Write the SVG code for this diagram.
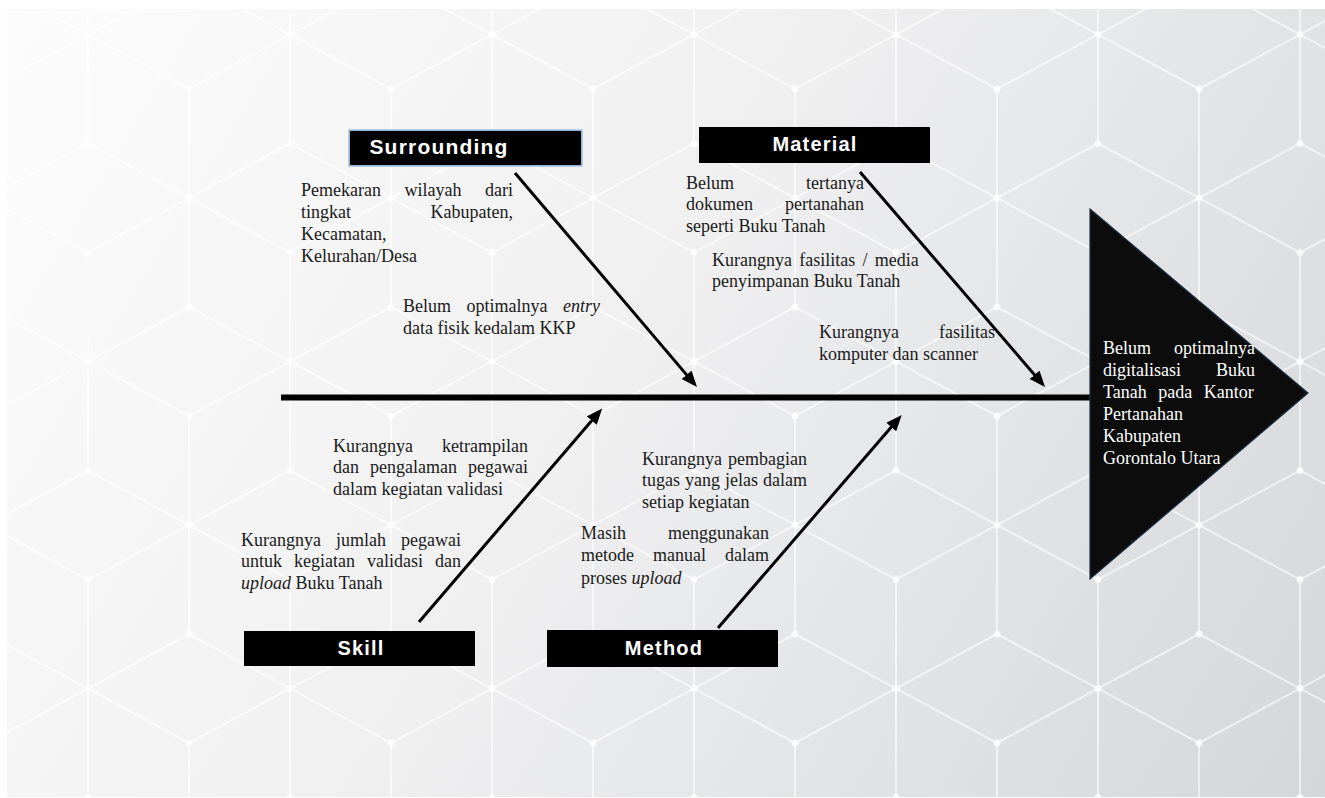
<svg xmlns="http://www.w3.org/2000/svg" width="1325" height="798" viewBox="0 0 1325 798">
<defs>
<linearGradient id="bg" x1="7" y1="9" x2="1325" y2="797" gradientUnits="userSpaceOnUse">
<stop offset="0" stop-color="#fcfcfc"/>
<stop offset="0.45" stop-color="#f0f0f1"/>
<stop offset="1" stop-color="#d4d6d9"/>
</linearGradient>
<pattern id="hex" patternUnits="userSpaceOnUse" x="88" y="34.5" width="202" height="327">
<g stroke="#ffffff" stroke-width="1.5" fill="none" stroke-opacity="0.8">
<path d="M0,-109V109M-101,-54.5L101,54.5M-101,54.5L101,-54.5"/>
<path d="M202,-109V109M101,-54.5L303,54.5M101,54.5L303,-54.5"/>
<path d="M0,218V436M-101,272.5L101,381.5M-101,381.5L101,272.5"/>
<path d="M202,218V436M101,272.5L303,381.5M101,381.5L303,272.5"/>
<path d="M101,54.5V272.5M0,109L202,218M0,218L202,109"/>
</g>
<g fill="#ffffff" fill-opacity="0.75">
<circle cx="0" cy="0" r="3.5"/><circle cx="0" cy="109" r="3.5"/><circle cx="0" cy="218" r="3.5"/><circle cx="0" cy="327" r="3.5"/>
<circle cx="202" cy="0" r="3.5"/><circle cx="202" cy="109" r="3.5"/><circle cx="202" cy="218" r="3.5"/><circle cx="202" cy="327" r="3.5"/>
<circle cx="101" cy="54.5" r="3.5"/><circle cx="101" cy="163.5" r="3.5"/><circle cx="101" cy="272.5" r="3.5"/>
</g>
</pattern>
<marker id="ah" markerUnits="userSpaceOnUse" markerWidth="17" markerHeight="14" refX="8" refY="7" orient="auto">
<path d="M0,0.5 L16,7 L0,13.5 Z" fill="#000"/>
</marker>
</defs>
<style>
.cause{font-family:"Liberation Serif","Times New Roman",serif;font-size:18px;fill:#1a1a1a}
.eff{font-family:"Liberation Serif","Times New Roman",serif;font-size:18px;fill:#ffffff}
.hd{font-family:"Liberation Sans",Arial,sans-serif;font-weight:bold;font-size:20px;fill:#ffffff;text-anchor:middle;letter-spacing:1.2px}
.box{fill:#000000}
.end{text-anchor:end}
.it{font-style:italic}
.arrow{stroke:#000;stroke-width:3;fill:none;marker-end:url(#ah)}
</style>
<rect x="0" y="0" width="1325" height="798" fill="#ffffff"/>
<g id="background">
<rect x="7" y="9" width="1318" height="788" fill="url(#bg)"/>
<rect x="7" y="9" width="1318" height="788" fill="url(#hex)"/>
</g>
<g id="connectors">
<line x1="281" y1="397.5" x2="1092" y2="397.5" stroke="#000" stroke-width="6"/>
<line class="arrow" x1="515" y1="173" x2="691.8" y2="380.9"/>
<line class="arrow" x1="860" y1="172" x2="1039.8" y2="380.9"/>
<line class="arrow" x1="419" y1="622" x2="597" y2="414.5"/>
<line class="arrow" x1="718" y1="628" x2="896.5" y2="421"/>
</g>
<g id="effect">
<polygon points="1090,209 1308,393 1090,579" fill="#0c0c0c" stroke="#1d2f44" stroke-width="1.2"/>
<text class="eff" x="1103" y="354">Belum</text>
<text class="eff end" x="1255" y="354">optimalnya</text>
<text class="eff" x="1103" y="376">digitalisasi</text>
<text class="eff end" x="1255" y="376">Buku</text>
<text class="eff" x="1103" y="398" word-spacing="7">Tanah pada Kantor</text>
<text class="eff" x="1103" y="420">Pertanahan</text>
<text class="eff" x="1103" y="442">Kabupaten</text>
<text class="eff" x="1103" y="464">Gorontalo Utara</text>
</g>
<g id="surrounding">
<rect x="349" y="130" width="233" height="36" fill="#000" stroke="#a9c9e6" stroke-width="1.8"/>
<text class="hd" x="439" y="154" style="font-size:21px">Surrounding</text>
</g>
<g id="material">
<rect class="box" x="699" y="127" width="231" height="36"/>
<text class="hd" x="815" y="151">Material</text>
</g>
<g id="skill">
<rect class="box" x="244" y="631" width="231" height="35"/>
<text class="hd" x="361" y="655">Skill</text>
</g>
<g id="method">
<rect class="box" x="547" y="630" width="231" height="37"/>
<text class="hd" x="664" y="655">Method</text>
</g>
<g id="cause-surrounding-1">
<text class="cause" x="301" y="196" word-spacing="19">Pemekaran wilayah dari</text>
<text class="cause" x="301" y="218">tingkat</text>
<text class="cause end" x="513" y="218">Kabupaten,</text>
<text class="cause" x="301" y="240">Kecamatan,</text>
<text class="cause" x="301" y="262">Kelurahan/Desa</text>
</g>
<g id="cause-surrounding-2">
<text class="cause" x="403" y="312" word-spacing="11">Belum optimalnya <tspan class="it">entry</tspan></text>
<text class="cause" x="403" y="334">data fisik kedalam KKP</text>
</g>
<g id="cause-material-1">
<text class="cause" x="686" y="189">Belum</text>
<text class="cause end" x="864" y="189">tertanya</text>
<text class="cause" x="686" y="210">dokumen</text>
<text class="cause end" x="864" y="210">pertanahan</text>
<text class="cause" x="686" y="232">seperti Buku Tanah</text>
</g>
<g id="cause-material-2">
<text class="cause" x="712" y="266" word-spacing="2.8">Kurangnya fasilitas / media</text>
<text class="cause" x="712" y="287">penyimpanan Buku Tanah</text>
</g>
<g id="cause-material-3">
<text class="cause" x="819" y="338">Kurangnya</text>
<text class="cause end" x="995" y="338">fasilitas</text>
<text class="cause" x="819" y="360">komputer dan scanner</text>
</g>
<g id="cause-skill-1">
<text class="cause" x="333" y="452">Kurangnya</text>
<text class="cause end" x="528" y="452">ketrampilan</text>
<text class="cause" x="333" y="473" word-spacing="6.5">dan pengalaman pegawai</text>
<text class="cause" x="333" y="495">dalam kegiatan validasi</text>
</g>
<g id="cause-skill-2">
<text class="cause" x="241" y="546" word-spacing="10.5">Kurangnya jumlah pegawai</text>
<text class="cause" x="241" y="567" word-spacing="7.5">untuk kegiatan validasi dan</text>
<text class="cause" x="241" y="589"><tspan class="it">upload</tspan> Buku Tanah</text>
</g>
<g id="cause-method-1">
<text class="cause" x="642" y="465">Kurangnya</text>
<text class="cause end" x="807" y="465">pembagian</text>
<text class="cause" x="642" y="486" word-spacing="0.5">tugas yang jelas dalam</text>
<text class="cause" x="642" y="508">setiap kegiatan</text>
</g>
<g id="cause-method-2">
<text class="cause" x="581" y="539">Masih</text>
<text class="cause end" x="769" y="539">menggunakan</text>
<text class="cause" x="581" y="561" word-spacing="14.5">metode manual dalam</text>
<text class="cause" x="581" y="584">proses <tspan class="it">upload</tspan></text>
</g>
</svg>
